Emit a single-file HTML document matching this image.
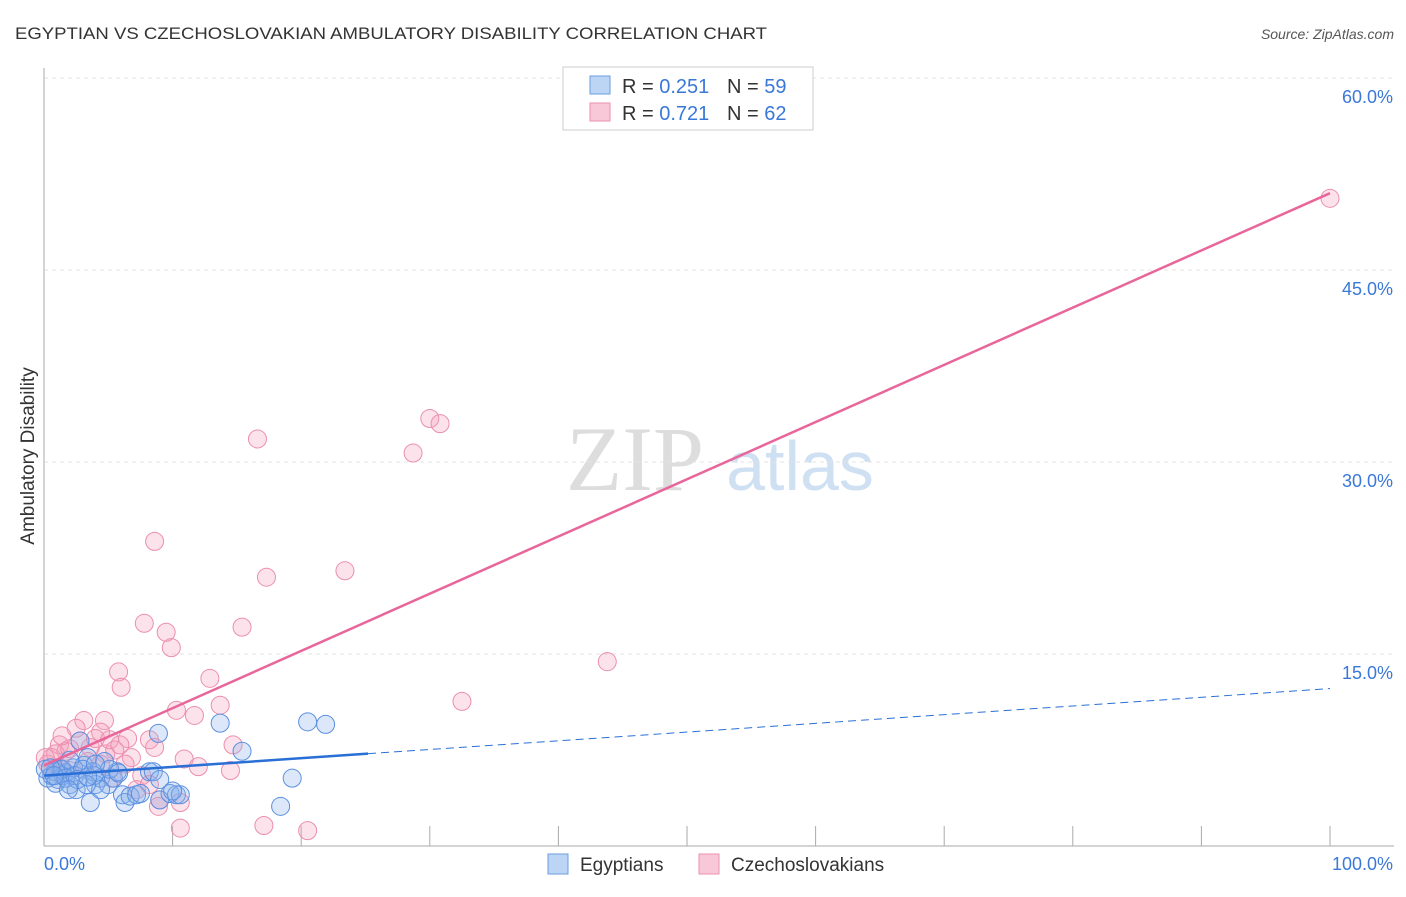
<!DOCTYPE html>
<html><head><meta charset="utf-8"><style>
body{margin:0;background:#fff;font-family:"Liberation Sans",sans-serif}
</style></head><body>
<svg width="1406" height="892" xmlns="http://www.w3.org/2000/svg" font-family="Liberation Sans, sans-serif">
<text x="15" y="39" font-size="17" fill="#333" textLength="752" lengthAdjust="spacingAndGlyphs">EGYPTIAN VS CZECHOSLOVAKIAN AMBULATORY DISABILITY CORRELATION CHART</text>
<text x="1394" y="39" font-size="14" fill="#555" font-style="italic" text-anchor="end">Source: ZipAtlas.com</text>
<text x="34" y="456" font-size="19" fill="#333" text-anchor="middle" transform="rotate(-90 34 456)">Ambulatory Disability</text>
<g><text x="635" y="490" font-size="92" fill="#ddd" font-family="Liberation Serif, serif" text-anchor="middle">ZIP</text><text x="800" y="490" font-size="70" fill="#cfe0f3" text-anchor="middle">atlas</text></g>
<g id="grid"></g><g id="axes"></g><g id="pts"></g><g id="lines"></g>
<g>
<rect x="563" y="67" width="250" height="63" fill="#fff" stroke="#ccc"/>
<rect x="590" y="76" width="20" height="18" fill="#bcd5f5" stroke="#6a9ee0"/>
<rect x="590" y="103" width="20" height="18" fill="#f9c8d8" stroke="#ec8fae"/>
<text x="622" y="93" font-size="20" fill="#333">R = <tspan fill="#3a78d8">0.251</tspan></text>
<text x="727" y="93" font-size="20" fill="#333">N = <tspan fill="#3a78d8">59</tspan></text>
<text x="622" y="120" font-size="20" fill="#333">R = <tspan fill="#3a78d8">0.721</tspan></text>
<text x="727" y="120" font-size="20" fill="#333">N = <tspan fill="#3a78d8">62</tspan></text>
</g>
<g>
<rect x="548" y="854" width="20" height="20" fill="#bcd5f5" stroke="#6a9ee0"/>
<text x="580" y="871" font-size="19" fill="#333">Egyptians</text>
<rect x="699" y="854" width="20" height="20" fill="#f9c8d8" stroke="#ec8fae"/>
<text x="731" y="871" font-size="19" fill="#333">Czechoslovakians</text>
</g>
</svg>
<script>
const yTicks=[15,30,45,60];
const xLabels=["0.0%","100.0%"];
const blueX=[0.3,0.6,0.9,1.1,1.3,1.5,1.7,2.0,2.3,2.5,2.8,3.1,3.4,3.6,3.8,4.0,4.4,4.7,5.0,5.4,5.7,6.1,6.3,6.7,7.2,8.2,8.5,8.9,9.0,9.0,9.8,10.3,10.6,13.7,15.4,18.4,19.3,20.5,21.9,1.4,2.0,0.1,0.5,0.9,1.7,2.4,3.0,3.9,5.1,5.8,7.5,10.0,4.4,3.3,2.6,0.8,1.9,3.4,4.0];
const blueY=[5.3,5.5,5.8,5.2,6.0,5.5,5.7,4.8,6.1,4.4,8.2,6.3,6.9,3.4,5.8,4.8,5.3,6.6,4.8,5.3,5.8,4.0,3.4,3.9,4.0,5.8,5.8,8.8,5.2,3.6,4.1,4.0,4.0,9.6,7.4,3.1,5.3,9.7,9.5,6.0,6.7,6.0,6.1,4.9,5.3,5.5,6.0,5.5,6.0,5.7,4.1,4.3,4.4,4.8,5.2,5.5,4.4,5.4,6.4];
const pinkX=[100,30.0,30.8,28.7,16.6,8.6,17.3,23.4,7.8,15.4,9.5,9.9,43.8,5.8,6.0,12.9,32.5,10.3,13.7,11.7,3.1,4.7,2.5,4.4,6.5,8.2,14.7,8.6,1.2,1.7,3.6,4.8,10.9,12.0,14.5,0.6,0.3,0.9,2.0,2.8,4.0,5.1,6.8,7.6,9.0,8.9,7.2,10.6,10.6,17.1,20.5,8.2,1.4,3.4,5.5,6.3,2.0,0.9,0.1,4.4,5.3,5.9];
const pinkY=[50.6,33.4,33.0,30.7,31.8,23.8,21.0,21.5,17.4,17.1,16.7,15.5,14.4,13.6,12.4,13.1,11.3,10.6,11.0,10.2,9.8,9.8,9.2,8.9,8.4,8.3,7.9,7.7,7.9,7.4,7.7,7.2,6.8,6.2,5.9,6.9,6.4,7.2,7.6,8.2,8.4,8.3,6.9,5.5,3.6,3.1,4.4,3.4,1.4,1.6,1.2,4.8,8.6,6.6,7.5,6.4,5.9,6.1,6.9,6.4,5.3,7.9];
const blueFit=[5.5,12.3], blueSolidEnd=25.2, pinkFit=[6.3,51.0];
const NS="http://www.w3.org/2000/svg";
const X=v=>44+v*12.86, Y=v=>846-v*12.8;
function mk(tag,attrs,parent){const e=document.createElementNS(NS,tag);for(const k in attrs)e.setAttribute(k,attrs[k]);document.getElementById(parent).appendChild(e);return e;}
yTicks.forEach(t=>{
 const l=mk('line',{x1:44,x2:1394,y1:Y(t),y2:Y(t),stroke:'#e3e3e3','stroke-width':1,'stroke-dasharray':'4,4'},'grid');
 
 
 const tx=mk('text',{x:1393,y:Y(t)+25,'font-size':18,fill:'#3a78d8','text-anchor':'end'},'grid');
 tx.textContent=t.toFixed(1)+'%';
 
 
});
const ax=mk('line',{x1:44,x2:1394,y1:846,y2:846,stroke:'#aaa'},'axes');


const ay=mk('line',{x1:44,x2:44,y1:68,y2:846,stroke:'#aaa'},'axes');


for(let i=1;i<=10;i++){const t=mk('line',{x1:X(i*10),x2:X(i*10),y1:826,y2:846,stroke:'#aaa'},'axes');
 
 }
xLabels.forEach((s,i)=>{const t=mk('text',{x:i?1393:44,y:870,'font-size':18,fill:'#3a78d8','text-anchor':i?'end':'start'},'axes');t.textContent=s;
 
 });
pinkX.forEach((x,i)=>{const c=mk('circle',{cx:X(x),cy:Y(pinkY[i]),r:9,fill:'rgba(244,160,188,0.3)',stroke:'#eb8fae','stroke-width':1},'pts');
 
 });
blueX.forEach((x,i)=>{const c=mk('circle',{cx:X(x),cy:Y(blueY[i]),r:9,fill:'rgba(140,180,235,0.3)',stroke:'#5b8fe0','stroke-width':1},'pts');
 
 });
const bAt=x=>blueFit[0]+(blueFit[1]-blueFit[0])*x/100;
const l1=mk('line',{x1:X(0),y1:Y(bAt(0)),x2:X(blueSolidEnd),y2:Y(bAt(blueSolidEnd)),stroke:'#2a6fd6','stroke-width':2.5},'lines');


const l2=mk('line',{x1:X(blueSolidEnd),y1:Y(bAt(blueSolidEnd)),x2:X(100),y2:Y(bAt(100)),stroke:'#2a6fd6','stroke-width':1,'stroke-dasharray':'8,5'},'lines');


const l3=mk('line',{x1:X(0),y1:Y(pinkFit[0]),x2:X(100),y2:Y(pinkFit[1]),stroke:'#e8669a','stroke-width':2.5},'lines');


</script>
</body></html>
